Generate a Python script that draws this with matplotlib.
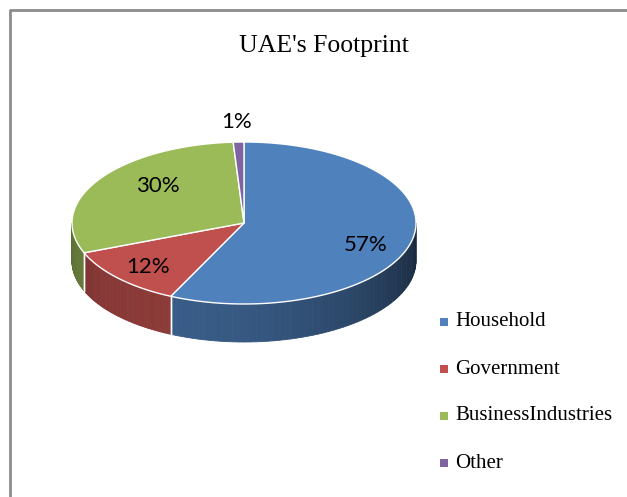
import matplotlib
matplotlib.use("Agg")
import matplotlib.pyplot as plt
from matplotlib.patches import Polygon, Rectangle
import numpy as np

labels = ["Household", "Government", "BusinessIndustries", "Other"]
shares = [57, 12, 30, 1]
colors = ["#4f81bd", "#c0504d", "#9bbb59", "#8064a2"]

W, H = 627, 497
fig = plt.figure(figsize=(W / 100, H / 100), dpi=100)
ax = fig.add_axes([0, 0, 1, 1])
ax.set_xlim(0, W)
ax.set_ylim(H, 0)
ax.axis("off")

# frame
ax.plot([10, 10, W + 5], [H + 5, 10, 10], color="#8c8c8c", lw=2, solid_capstyle="butt")

cx, cy, rx, ry, depth = 244, 223, 172, 81, 38


def pt(t):
    r = np.radians(t)
    return cx + rx * np.cos(r), cy - ry * np.sin(r)


def shade(hexc, t):
    rgb = np.array(matplotlib.colors.to_rgb(hexc))
    f = 0.45 + 0.27 * np.cos(np.radians(t + 120))
    return tuple(np.clip(rgb * f, 0, 1))


total = sum(shares)
bounds = []
start = 90.0
for s in shares:
    end = start - s / total * 360
    bounds.append((start, end))
    start = end

# side walls (only lower half is visible)
for (a, b), c in zip(bounds, colors):
    lo, hi = b, a
    for off in (0, -360, 360):
        l2, h2 = max(lo + off, -180), min(hi + off, 0)
        if h2 <= l2:
            continue
        ts = np.linspace(l2, h2, 60)
        for t1, t2 in zip(ts[:-1], ts[1:]):
            x1, y1 = pt(t1)
            x2, y2 = pt(t2)
            col = shade(c, (t1 + t2) / 2)
            ax.add_patch(Polygon([(x1, y1), (x2, y2), (x2, y2 + depth), (x1, y1 + depth)],
                                 closed=True, facecolor=col, edgecolor=col, lw=0.6))
# white seams on the wall
for a, b in bounds:
    for t in (a, b):
        tt = (t + 180) % 360 - 180
        if -180 < tt < 0:
            x, y = pt(tt)
            ax.plot([x, x], [y, y + depth], color="white", lw=1)

# top faces
for (a, b), c in zip(bounds, colors):
    ts = np.linspace(a, b, 200)
    xs, ys = pt(ts)
    verts = [(cx, cy)] + list(zip(xs, ys))
    ax.add_patch(Polygon(verts, closed=True, facecolor=c, edgecolor="white", lw=1))

# percent labels
lab_pos = [(366, 245), (148, 267), (158, 186), (237, 122)]
for (x, y), s in zip(lab_pos, shares):
    ax.text(x, y, f"{s}%", fontsize=16, family="Lato", ha="center", va="center", color="black")

ax.text(324, 46, "UAE's Footprint", fontsize=18.5, family="Liberation Serif",
        ha="center", va="center")

# legend
for i, (lab, c) in enumerate(zip(labels, colors)):
    y = 322 + i * 47
    ax.add_patch(Rectangle((440, y - 4), 8, 8, facecolor=c, edgecolor="none"))
    ax.text(455, y, lab, fontsize=15, family="Liberation Serif", ha="left", va="center")

fig.savefig("out.png", dpi=100)
